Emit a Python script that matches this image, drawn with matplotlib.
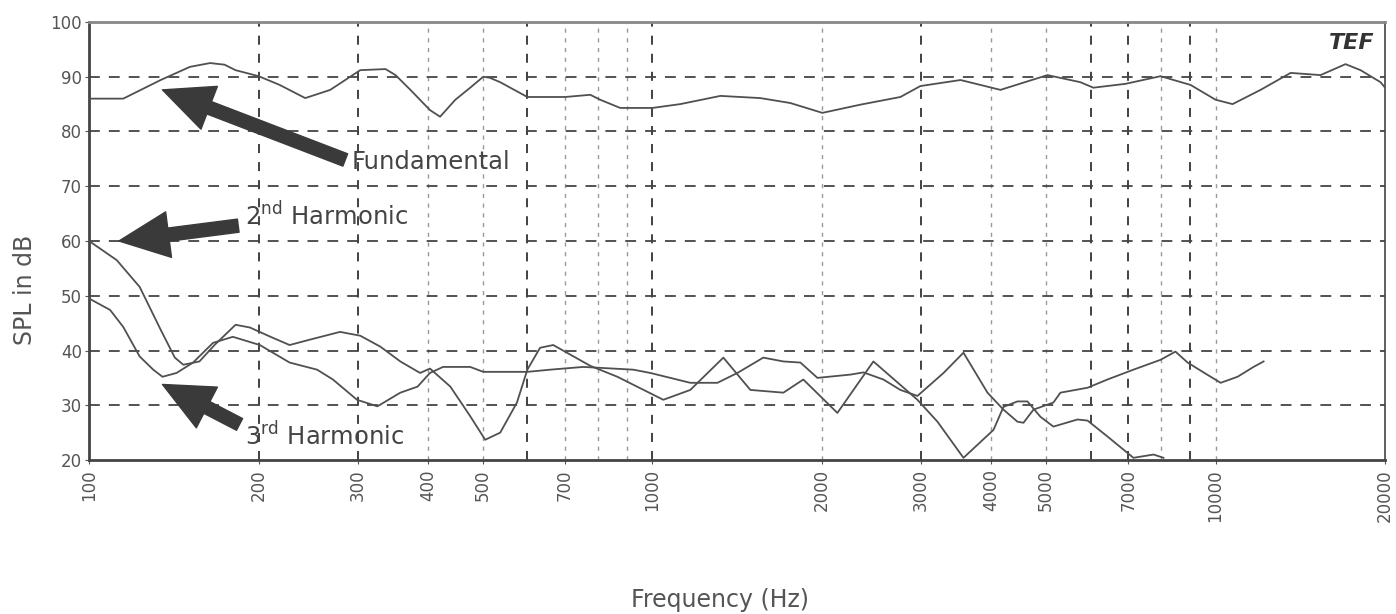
import matplotlib
matplotlib.use('Agg')
import matplotlib.pyplot as plt
import numpy as np

# frequency response data
fund_f = [100, 115, 134, 151, 164, 174, 182, 200, 218, 242, 268, 303, 336, 350, 372, 403, 420, 447, 475, 501, 515, 537,
          600, 700, 776, 808, 877, 1000, 1121, 1321, 1555, 1758, 2004, 2341, 2757, 2992, 3525, 4150, 5030, 5755, 6068,
          6918, 7986, 9030, 10000, 10720, 12020, 13590, 15360, 17010, 18090, 19630, 20000]
fund_db = [86.0, 86.0, 89.4, 91.8, 92.5, 92.2, 91.2, 90.1, 88.5, 86.1, 87.6, 91.2, 91.4, 90.3, 87.6, 83.9, 82.7, 85.8,
           88.0, 90.0, 89.8, 89.0, 86.3, 86.3, 86.7, 85.8, 84.3, 84.3, 85.0, 86.5, 86.1, 85.2, 83.4, 84.9, 86.3, 88.3,
           89.4, 87.6, 90.3, 89.0, 88.0, 88.7, 90.1, 88.5, 85.8, 85.0, 87.6, 90.7, 90.3, 92.3, 91.2, 89.0, 88.0]

h2_f = [100, 112, 123, 134, 142, 147, 157, 167, 182, 193, 210, 227, 247, 279, 303, 329, 357, 387, 403, 438, 475, 505,
        537, 575, 600, 632, 667, 776, 867, 1046, 1168, 1337, 1493, 1709, 1854, 2131, 2469, 2956, 3208, 3568, 4034,
        4202, 4449, 4635, 4887, 5153, 5686, 5926, 6427, 7148, 7762, 8083]
h2_db = [60.0, 56.5, 51.6, 43.8, 38.7, 37.4, 38.0, 41.0, 44.7, 44.2, 42.5, 41.0, 42.0, 43.4, 42.7, 40.7, 38.0, 35.9,
         36.7, 33.4, 28.0, 23.7, 25.0, 30.5, 36.5, 40.5, 41.0, 37.2, 35.2, 31.0, 32.8, 38.7, 32.8, 32.3, 34.7, 28.6,
         38.0, 31.0, 27.0, 20.4, 25.5, 29.7, 30.7, 30.7, 27.9, 26.1, 27.4, 27.2, 24.3, 20.4, 21.0, 20.4]

h3_f = [100, 109, 115, 123, 130, 135, 143, 153, 166, 180, 201, 227, 254, 271, 299, 325, 357, 383, 403, 425, 475, 501,
        600, 659, 754, 925, 992, 1168, 1305, 1416, 1574, 1709, 1832, 1964, 2248, 2371, 2572, 2757, 2956, 3289, 3568,
        3936, 4202, 4449, 4560, 4750, 5153, 5304, 5926, 6427, 7148, 7986, 8487, 8921, 9521, 10210, 10940, 11680, 12170]
h3_db = [49.5, 47.4, 44.3, 38.9, 36.5, 35.2, 35.9, 37.8, 41.4, 42.5, 41.0, 37.8, 36.5, 34.7, 31.0, 29.8, 32.3, 33.4,
         35.9, 37.0, 37.0, 36.1, 36.1, 36.5, 37.0, 36.5, 35.9, 34.1, 34.1, 35.9, 38.7, 38.0, 37.8, 35.0, 35.6, 36.0,
         34.7, 32.8, 31.7, 35.9, 39.6, 32.3, 29.2, 27.0, 26.8, 29.2, 30.5, 32.3, 33.2, 34.7, 36.5, 38.3, 39.8, 37.8,
         36.0, 34.1, 35.2, 37.0, 38.0]

xticks = [100, 200, 300, 400, 500, 700, 1000, 2000, 3000, 4000, 5000, 7000, 10000, 20000]
yticks = [20, 30, 40, 50, 60, 70, 80, 90, 100]
# scan makes some grid lines darker than others
grid_dark = [200, 300, 600, 1000, 3000, 6000, 7000, 9000]
grid_light = [400, 500, 700, 800, 900, 2000, 4000, 5000, 8000, 10000]

fig = plt.figure(figsize=(13.96, 6.14), dpi=100)
ax = fig.add_axes([0.0638, 0.2508, 0.9284, 0.7134])

ax.set_xscale('log')
ax.set_xlim(100, 20000)
ax.set_ylim(20, 100)

for g in grid_dark:
    ax.axvline(g, color='#333333', lw=1.3, ls=(0, (5, 5)), zorder=1)
for g in grid_light:
    ax.axvline(g, color='#999999', lw=1.0, ls=(0, (3, 4)), zorder=1)
for g in yticks[1:-1]:
    ax.axhline(g, color='#444444', lw=1.3, ls=(0, (6, 5)), zorder=1)

lc = '#505050'
ax.plot(fund_f, fund_db, color=lc, lw=1.3, zorder=3)
ax.plot(h2_f, h2_db, color=lc, lw=1.3, zorder=3)
ax.plot(h3_f, h3_db, color=lc, lw=1.3, zorder=3)

ax.set_xticks(xticks)
ax.set_xticklabels([str(t) for t in xticks], rotation=90)
ax.minorticks_off()
ax.set_yticks(yticks)
ax.tick_params(axis='both', labelsize=12, colors='#555555', length=3)
ax.tick_params(axis='y', pad=2)
for s in ax.spines.values():
    s.set_color('#444444')
    s.set_linewidth(2)
ax.spines['top'].set_color('#888888')
ax.spines['right'].set_linewidth(1.2)

fig.text(0.018, 0.528, 'SPL in dB', rotation=90, ha='center', va='center', fontsize=17, color='#555555')
fig.text(0.516, 0.022, 'Frequency (Hz)', ha='center', va='center', fontsize=17, color='#555555')

# annotation arrows
arr = dict(arrowstyle='simple,head_length=3.6,head_width=3.3,tail_width=0.95', fc='#3a3a3a', ec='#3a3a3a',
           mutation_scale=10, shrinkA=0, shrinkB=0)
ax.annotate('', xy=(135, 87.6), xytext=(285, 74.8), arrowprops=arr, zorder=4)
ax.annotate('', xy=(113, 60.0), xytext=(184, 62.8), arrowprops=arr, zorder=4)
ax.annotate('', xy=(135, 33.8), xytext=(185, 26.5), arrowprops=arr, zorder=4)

tc = '#444444'
ax.text(293, 74.5, 'Fundamental', fontsize=17.5, color=tc, va='center', ha='left', zorder=5)
ax.text(189, 64.6, '2$^{\\mathrm{nd}}$ Harmonic', fontsize=17.5, color=tc, va='center', ha='left', zorder=5)
ax.text(189, 24.3, '3$^{\\mathrm{rd}}$ Harmonic', fontsize=17.5, color=tc, va='center', ha='left', zorder=5)

# TEF logo
ax.text(0.992, 0.975, 'TEF', transform=ax.transAxes, ha='right', va='top', fontsize=16,
        fontweight='bold', style='italic', color='#333333', zorder=5)

fig.savefig('out.png', dpi=100)
